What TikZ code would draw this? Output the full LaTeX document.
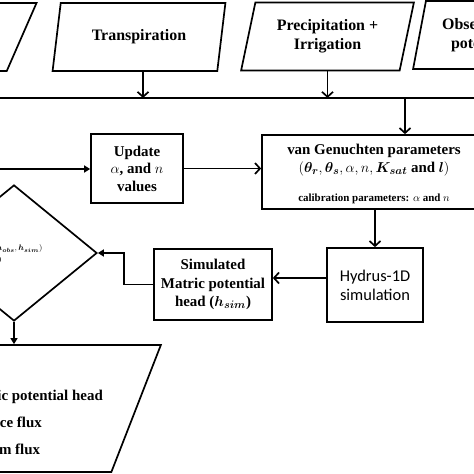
\documentclass[tikz,border=0pt]{standalone}
\usepackage{amsmath}
\usepackage{amssymb}
\usepackage{fontspec}
\setmainfont{Liberation Serif}
\newfontfamily\hydfont{Carlito}
\usepackage{tikz}
\usetikzlibrary{shapes.geometric, positioning, arrows.meta}

\tikzset{
	flow/.style={draw, line width=1.7bp, align=center, inner sep=0pt, font=\bfseries\fontsize{15}{18}\selectfont},
	io/.style={flow, trapezium, inner sep=2bp, trapezium left angle=74.5, trapezium right angle=105.5, trapezium stretches=true, minimum width=173bp, minimum height=68bp, font=\bfseries\fontsize{16}{19}\selectfont},
	proc/.style={flow, rectangle},
	arr/.style={line width=1.7bp, -{Straight Barb[length=5bp,width=11bp]}},
	arrf/.style={line width=1.7bp, -{Triangle[length=6bp,width=7bp]}}
}

\begin{document}
\begin{tikzpicture}[x=1bp, y=-1bp]
		\useasboundingbox (0,0) rectangle (474,474);
		\clip (0,0) rectangle (474,474);

		% inputs
		\node[io] (etin) at (-50,37) {\phantom{x}};
		\node[io] (tra) at (139,37) {Transpiration};
		\node[io] (pre) at (327.5,36.5) {Precipitation +\\Irrigation};
		\node[io] (obs) at (499.5,35) {Observed matric\\potential head};

		\coordinate (busL) at (-5,98);
		\coordinate (busR) at (480,98);
		\coordinate (busTap) at (405,98);
		\coordinate (loopIn) at (-5,169);

		% calibration loop
		\node[proc, minimum width=92bp, minimum height=69bp, font=\bfseries\fontsize{15}{17.5}\selectfont] (upd) at (137,168.5) {Update\\$\alpha$, and $n$\\values};
		\node[proc, minimum width=400bp, minimum height=74bp] (vg) at (462,172) {};
		\node[align=center, inner sep=0pt, font=\bfseries\fontsize{15}{18}\selectfont] (vgtxt) at (374,174) {van Genuchten parameters\\$(\boldsymbol{\theta_r}, \boldsymbol{\theta_s}, \alpha, n, \boldsymbol{K_{sat}}$ and $\boldsymbol{l})$\\[11bp]{\fontsize{11}{13}\selectfont calibration parameters: $\alpha$ and $n$}};
		\node[proc, minimum width=96bp, minimum height=74bp, font=\hydfont\fontsize{16.5}{19}\selectfont] (hyd) at (375,285) {Hydrus-1D\\simulation};
		\node[proc, minimum width=118bp, minimum height=71bp, font=\bfseries\fontsize{15}{18.5}\selectfont] (sim) at (213,284.5) {Simulated\\Matric potential\\head ($\boldsymbol{h_{sim}}$)};
		\node[flow, diamond, minimum width=166bp, minimum height=136bp] (dia) at (14,253) {};
		\node[anchor=east, font=\bfseries\fontsize{8.5}{10}\selectfont] (diaA) at (46,249) {RMSE$(\boldsymbol{h_{obs}}, \boldsymbol{h_{sim}})$};
		\node[anchor=east, font=\bfseries\fontsize{8.5}{10}\selectfont] (diaB) at (5,259.5) {$\rightarrow 0$};

		% outputs
		\node[flow, trapezium, inner sep=2bp, trapezium left angle=75.4, trapezium right angle=104.6, trapezium stretches=true, minimum width=300bp, minimum height=127bp] (out) at (11,408.5) {\phantom{x}};
		\node[anchor=west, align=left, inner sep=0pt, font=\bfseries\fontsize{15}{27.5}\selectfont] (outtxt) at (-36,422.5) {Matric potential head\\Surface flux\\Bottom flux};

		\draw[line width=1.7bp] (busL) -- (busR);
		\draw[arr] ([xshift=4bp]tra.south) -- ([xshift=4bp]tra.south |- busL);
		\draw[arr] (pre.south) -- (pre.south |- busL);
		\draw[arr] (busTap) -- (busTap |- vg.north);
		\draw[arrf] (loopIn) -- (loopIn -| upd.west);
		\draw[arr] (upd.east) -- (upd.east -| vg.west);
		\draw[arr] (hyd.north |- vg.south) -- (hyd.north);
		\draw[arr] ([yshift=7bp]hyd.west) -- ([yshift=7bp]hyd.west -| sim.east);
		\draw[arrf] (sim.west) -- ++(-29,0) |- (dia.east);
		\draw[arrf] (dia.south) -- (dia.south |- out.north);
	\end{tikzpicture}
\end{document}
